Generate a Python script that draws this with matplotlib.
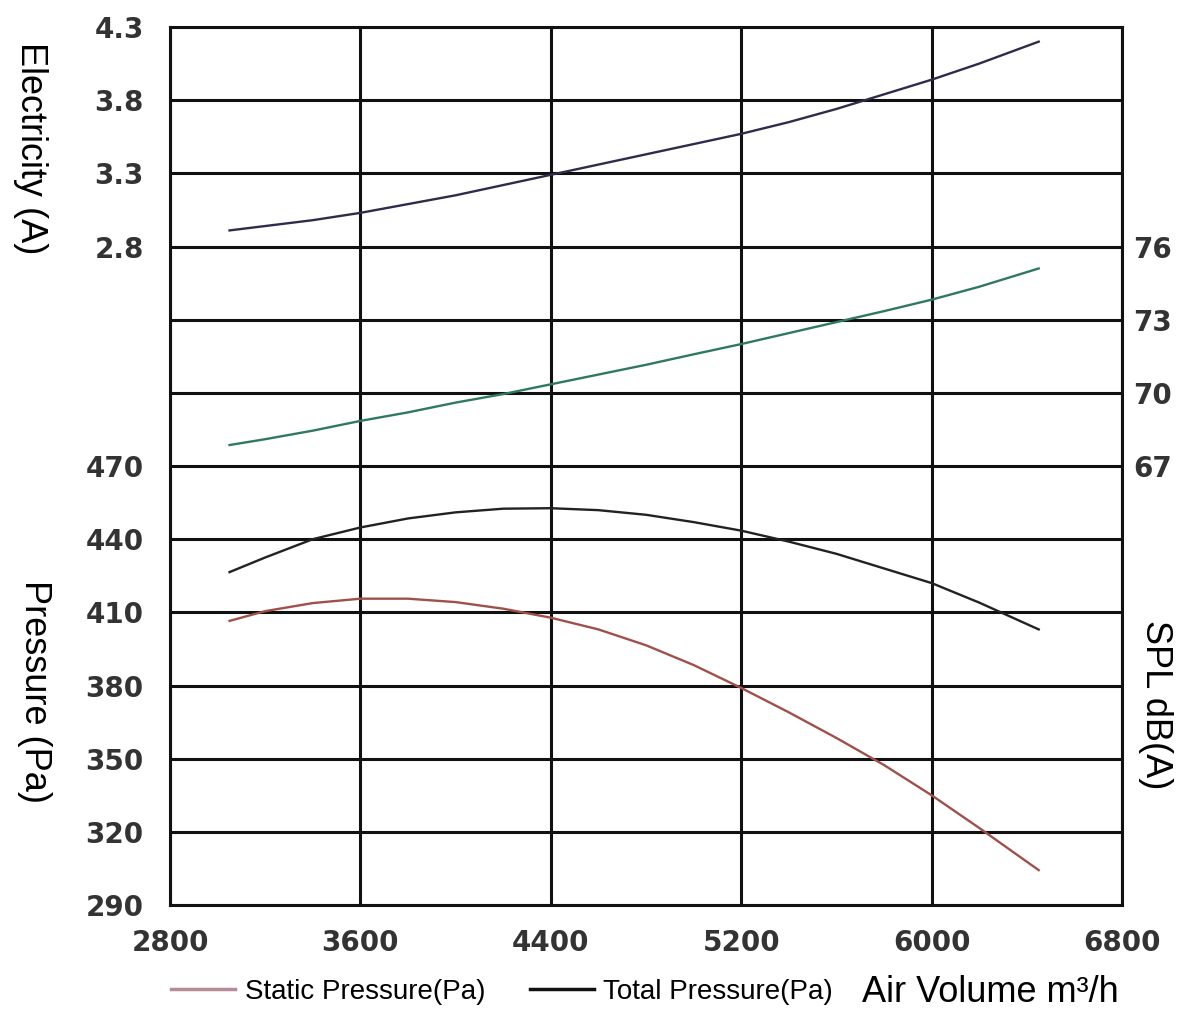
import numpy as np
import matplotlib.pyplot as plt
from matplotlib.lines import Line2D

# air volume (m3/h) where the curves were read
air_volume = [3050, 3200, 3400, 3600, 3800, 4000, 4200, 4400, 4600,
              4800, 5000, 5200, 5400, 5600, 5800, 6000, 6200, 6450]

electricity = [2.91, 2.94, 2.98, 3.03, 3.09, 3.15, 3.22, 3.29, 3.36,
               3.43, 3.50, 3.57, 3.65, 3.74, 3.84, 3.94, 4.05, 4.20]
spl = [67.86, 68.1, 68.45, 68.85, 69.2, 69.6, 69.95, 70.35, 70.75,
       71.15, 71.58, 72.0, 72.45, 72.9, 73.35, 73.82, 74.35, 75.1]
total_pressure = [426.5, 432.5, 440, 444.8, 448.5, 451, 452.5, 452.7, 451.9,
                  450, 447, 443.5, 439, 434, 428, 422, 414, 403]
static_pressure = [406.5, 410.5, 413.8, 415.6, 415.6, 414.2, 411.5, 407.8, 403,
                   396.5, 388.4, 379, 369, 358.5, 347.4, 335, 321.6, 304.3]

x_ticks = [2800, 3600, 4400, 5200, 6000, 6800]
pressure_ticks = [290, 320, 350, 380, 410, 440, 470]
electricity_ticks = [2.8, 3.3, 3.8, 4.3]
spl_ticks = [67, 70, 73, 76]

tick_font = {"family": "DejaVu Sans", "weight": "bold", "size": 20}
label_font = {"family": "Liberation Sans", "size": 26}

fig = plt.figure(figsize=(12, 10.31), dpi=100)
ax = fig.add_axes([0.1417, 0.1222, 0.7933, 0.8516])

# pressure axis: 12 rows of 30 Pa, labels only on the lower 6
ax.set_xlim(2800, 6800)
ax.set_ylim(290, 650)
ax.set_xticks(x_ticks)
ax.set_xticklabels([str(v) for v in x_ticks], fontdict=tick_font, color="#333333")
rows = np.arange(290, 651, 30)
ax.set_yticks(rows)
ax.set_yticklabels([str(v) if v in pressure_ticks else "" for v in rows],
                   fontdict=tick_font, color="#333333")
ax.tick_params(axis="y", length=0, pad=19)
ax.tick_params(axis="x", length=0, pad=17)
ax.grid(True, color="#111111", linewidth=2.2)
for s in ax.spines.values():
    s.set_linewidth(2.2)
    s.set_color("#111111")

# electricity axis (left, upper three rows)
ax_e = ax.twinx()
ax_e.set_ylim(-1.7, 4.3)
ax_e.set_yticks(electricity_ticks)
ax_e.set_yticklabels([f"{v:.1f}" for v in electricity_ticks],
                     fontdict=tick_font, color="#333333")
ax_e.yaxis.set_ticks_position("left")
ax_e.tick_params(axis="y", length=0, pad=19)
for s in ax_e.spines.values():
    s.set_visible(False)

# SPL axis (right)
ax_s = ax.twinx()
ax_s.set_ylim(49, 85)
ax_s.set_yticks(spl_ticks)
ax_s.set_yticklabels([str(v) for v in spl_ticks], fontdict=tick_font, color="#333333")
ax_s.tick_params(axis="y", length=0, pad=8)
for s in ax_s.spines.values():
    s.set_visible(False)

ax_e.plot(air_volume, electricity, color="#2e2c4a", linewidth=1.7)
ax_s.plot(air_volume, spl, color="#2f7a5c", linewidth=1.7)
ax.plot(air_volume, total_pressure, color="#222222", linewidth=1.7)
ax.plot(air_volume, static_pressure, color="#a0504a", linewidth=1.7)

# axis titles
fig.text(30 / 1200, 1 - 148 / 1031, "Electricity (A)", rotation=270,
         ha="center", va="center", fontdict=label_font)
fig.text(34 / 1200, 1 - 692 / 1031, "Pressure (Pa)", rotation=270,
         ha="center", va="center", fontdict=label_font)
fig.text(1155 / 1200, 1 - 705 / 1031, "SPL dB(A)", rotation=270,
         ha="center", va="center", fontdict=label_font)

handles = [Line2D([], [], color="#b48c96", linewidth=2.5),
           Line2D([], [], color="#111111", linewidth=2.5)]
fig.legend(handles, ["Static Pressure(Pa)", "Total Pressure(Pa)"],
           loc="center left", bbox_to_anchor=(160 / 1200, 1 - 992 / 1031),
           ncol=2, frameon=False, handlelength=2.3, handletextpad=0.35,
           columnspacing=1.6, borderaxespad=0,
           prop={"family": "Liberation Sans", "size": 20})
fig.text(862 / 1200, 1 - 992 / 1031, "Air Volume m³/h", ha="left", va="center",
         fontdict=label_font)

fig.savefig("out.png", dpi=100, facecolor="white")
